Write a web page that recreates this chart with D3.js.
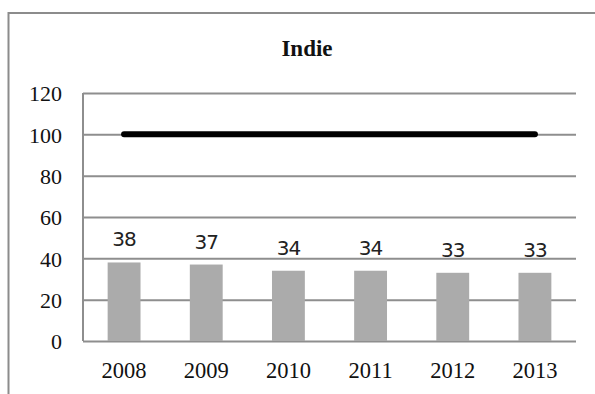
<!DOCTYPE html>
<html>
<head>
<meta charset="utf-8">
<script src="https://cdn.jsdelivr.net/npm/d3@7"></script>
<style>
  html, body { margin: 0; padding: 0; background: #ffffff; }
  svg { display: block; }
</style>
</head>
<body>
<svg id="chart" width="595" height="394"></svg>
<script>
// Chart data
const years = ["2008", "2009", "2010", "2011", "2012", "2013"];
const shares = [38, 37, 34, 34, 33, 33];
const targetLevel = [100, 100, 100, 100, 100, 100];
const yTicks = [0, 20, 40, 60, 80, 100, 120];
const chartTitle = "Indie";

const SERIF = '"Liberation Serif"';
const SANS = '"DejaVu Sans"';

const svg = d3.select("#chart");
const plot = { left: 83, right: 576, top: 93, bottom: 341 };

// Outer frame of the chart area
svg.append("rect")
  .attr("x", 8.5).attr("y", 13)
  .attr("width", 620).attr("height", 420)
  .attr("fill", "none")
  .attr("stroke", "#8c8c8c")
  .attr("stroke-width", 2);

const x = d3.scaleBand()
  .domain(years)
  .range([plot.left, plot.right])
  .paddingInner(0.6)
  .paddingOuter(0.3);

const y = d3.scaleLinear()
  .domain([0, 120])
  .range([plot.bottom, plot.top]);

// Horizontal gridlines and tick labels
const yAxis = d3.axisLeft(y)
  .tickValues(yTicks)
  .tickSize(-(plot.right - plot.left))
  .tickPadding(21)
  .tickFormat(d3.format("d"));

const gy = svg.append("g")
  .attr("transform", `translate(${plot.left},0)`)
  .call(yAxis);
gy.attr("font-family", null).attr("font-size", null);
gy.select(".domain").remove();
gy.selectAll(".tick line")
  .attr("stroke", "#8e8e8e")
  .attr("stroke-width", 2);
gy.selectAll(".tick text")
  .style("font-family", SERIF)
  .style("font-size", "22px")
  .attr("fill", "#111")
  .attr("dy", "0.35em");

// Left axis line
svg.append("line")
  .attr("x1", plot.left).attr("x2", plot.left)
  .attr("y1", plot.top).attr("y2", plot.bottom)
  .attr("stroke", "#8e8e8e")
  .attr("stroke-width", 2);

// Bars
svg.append("g").selectAll("rect")
  .data(shares)
  .join("rect")
  .attr("x", (d, i) => x(years[i]))
  .attr("y", d => y(d))
  .attr("width", x.bandwidth())
  .attr("height", d => y(0) - y(d))
  .attr("fill", "#ababab");

// Value labels above bars
svg.append("g").selectAll("text")
  .data(shares)
  .join("text")
  .attr("x", (d, i) => x(years[i]) + x.bandwidth() / 2)
  .attr("y", d => y(d) - 16)
  .attr("text-anchor", "middle")
  .style("font-family", SANS)
  .style("font-size", "20px")
  .style("letter-spacing", "-1px")
  .attr("fill", "#222")
  .text(d => d);

// Target line
const line = d3.line()
  .x((d, i) => x(years[i]) + x.bandwidth() / 2)
  .y(d => y(d));
svg.append("path")
  .datum(targetLevel)
  .attr("d", line)
  .attr("fill", "none")
  .attr("stroke", "#000")
  .attr("stroke-width", 6)
  .attr("stroke-linecap", "round");

// Category labels
svg.append("g").selectAll("text")
  .data(years)
  .join("text")
  .attr("x", d => x(d) + x.bandwidth() / 2)
  .attr("y", 377.5)
  .attr("text-anchor", "middle")
  .style("font-family", SERIF)
  .style("font-size", "22.5px")
  .attr("fill", "#111")
  .text(d => d);

// Title
svg.append("text")
  .attr("x", 307)
  .attr("y", 56)
  .attr("text-anchor", "middle")
  .style("font-family", SERIF)
  .style("font-weight", "bold")
  .style("font-size", "23px")
  .attr("fill", "#111")
  .text(chartTitle);
</script>
</body>
</html>
